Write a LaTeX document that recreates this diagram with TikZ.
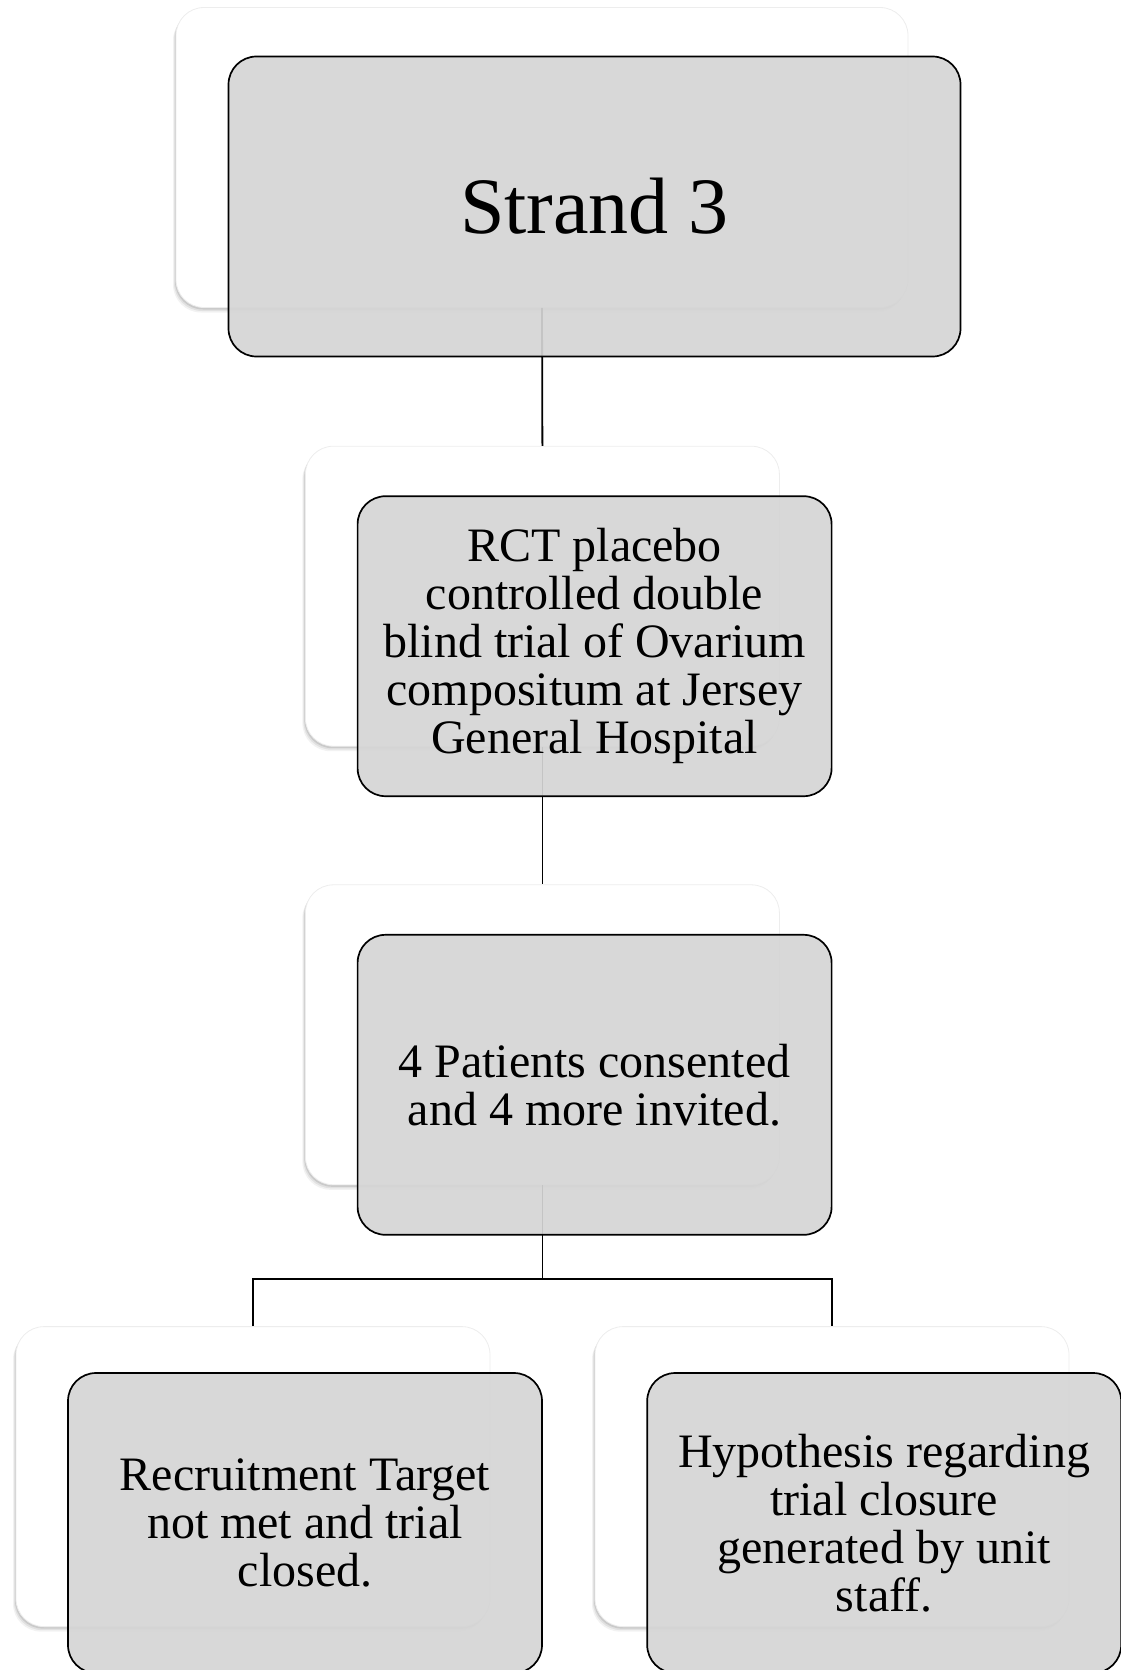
\documentclass[tikz,border=0pt]{standalone}
\usepackage{fontspec}
\setmainfont{Liberation Serif}
\usetikzlibrary{shadows}
\definecolor{frontgray}{RGB}{213,213,213}
\begin{document}
\begin{tikzpicture}[x=1pt,y=-1pt,
  backbox/.style={rectangle, rounded corners=28pt, minimum height=300pt, inner sep=0pt,
    fill=white, draw=black!7, line width=0.8pt,
    general shadow={fill=black, opacity=0.10, shadow xshift=-1pt, shadow yshift=-2pt},
    general shadow={fill=black, opacity=0.07, shadow xshift=-2pt, shadow yshift=-3.5pt},
    general shadow={fill=black, opacity=0.05, shadow xshift=-3pt, shadow yshift=-5pt}},
  frontbox/.style={rectangle, rounded corners=28pt, minimum height=300pt, inner sep=0pt,
    fill=frontgray, fill opacity=0.92, text opacity=1, draw=black, draw opacity=1,
    line width=1.7pt, align=center, font=\fontsize{48}{48}\selectfont},
  conn/.style={draw=black, line width=1.8pt}]
\useasboundingbox (0,0) rectangle (1121,1670);
% back boxes
\node[backbox, minimum width=732pt] (b1) at (542,157.5) {};
\node[backbox, minimum width=474pt] (b2) at (542.4,596.2) {};
\node[backbox, minimum width=474pt] (b3) at (542.4,1034.8) {};
\node[backbox, minimum width=474pt] (b4) at (253,1476.6) {};
\node[backbox, minimum width=474pt] (b5) at (832,1476.6) {};
% connectors
\coordinate (fork) at (542.4,1278.6);
\draw[conn] (b1.south) -- (b2.north);
\draw[conn] (b2.south) -- (b3.north);
\draw[conn] (b3.south) -- (fork);
\draw[conn] (b4.north) |- (fork) -| (b5.north);
% front boxes
\node[frontbox, minimum width=732pt, font=\fontsize{80}{80}\selectfont] (f1) at (594.5,206.5) {Strand 3};
\node[frontbox, minimum width=474pt] (f2) at (594.6,646.2) {RCT placebo\\controlled double\\blind trial of Ovarium\\compositum at Jersey\\General Hospital};
\node[frontbox, minimum width=474pt] (f3) at (594.6,1084.8) {4 Patients consented\\and 4 more invited.};
\node[frontbox, minimum width=474pt] (f4) at (305,1523) {Recruitment Target\\not met and trial\\closed.};
\node[frontbox, minimum width=474pt] (f5) at (884.2,1523) {Hypothesis regarding\\trial closure\\generated by unit\\staff.};
\end{tikzpicture}
\end{document}
